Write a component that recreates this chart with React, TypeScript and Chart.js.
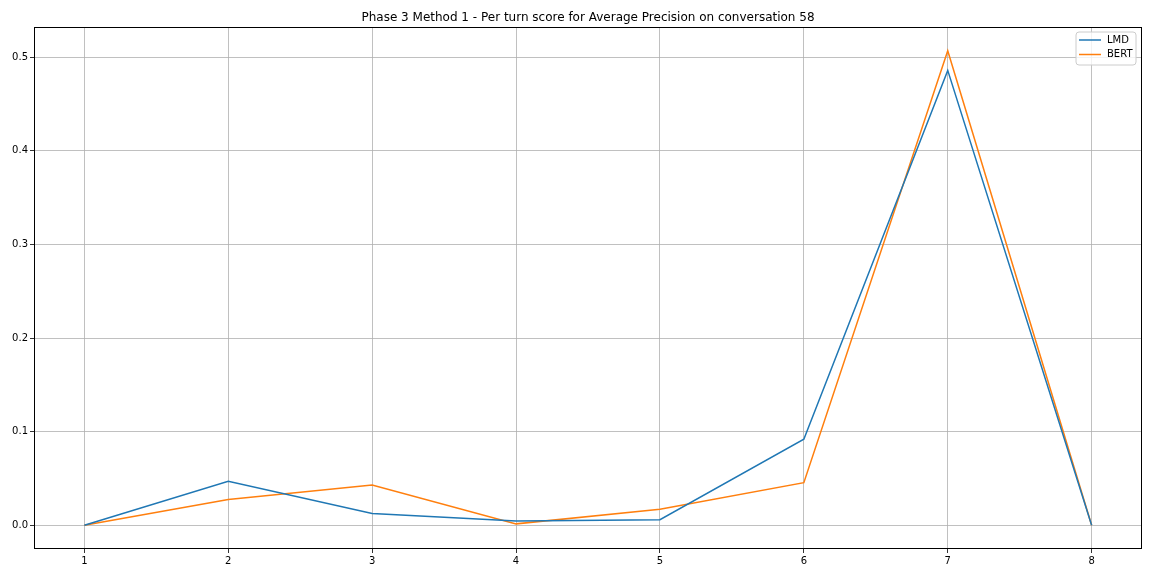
import React, { useEffect, useRef } from "react";
import { Chart, registerables } from "chart.js";

Chart.register(...registerables);

const turns = [1, 2, 3, 4, 5, 6, 7, 8];
const lmdScores = [0, 0.047, 0.0125, 0.0045, 0.006, 0.092, 0.486, 0];
const bertScores = [0, 0.0275, 0.043, 0.0015, 0.017, 0.0455, 0.507, 0];
const xTicks = [1, 2, 3, 4, 5, 6, 7, 8];
const yTicks = [0, 0.1, 0.2, 0.3, 0.4, 0.5];
const seriesNames = ["LMD", "BERT"];
const seriesColors = ["#1f77b4", "#ff7f0e"];
const titleText = "Phase 3 Method 1 - Per turn score for Average Precision on conversation 58";

const FONT = "'DejaVu Sans', sans-serif";

export default function App() {
  const ref = useRef<HTMLCanvasElement | null>(null);
  useEffect(() => {
    document.body.style.margin = "0";
    const ctx = ref.current!.getContext("2d")!;
    const allY = [...lmdScores, ...bertScores];
    const yMinD = Math.min(...allY);
    const yMaxD = Math.max(...allY);
    const yPad = (yMaxD - yMinD) * 0.05;
    const xPad = (turns[turns.length - 1] - turns[0]) * 0.05;

    const framePlugin = {
      id: "frame",
      afterDraw(chart: any) {
        const { ctx: c, chartArea: a } = chart;
        c.save();
        c.strokeStyle = "#000";
        c.lineWidth = 1;
        c.strokeRect(Math.round(a.left) + 0.5, Math.round(a.top) + 0.5, Math.round(a.right - a.left) - 1, Math.round(a.bottom - a.top) - 1);
        // title
        c.fillStyle = "#000";
        c.font = `12px ${FONT}`;
        c.textAlign = "center";
        c.textBaseline = "alphabetic";
        c.fillText(titleText, (a.left + a.right) / 2, a.top - 6);
        // legend
        const bx = a.right - 66, by = a.top + 5, bw = 60, bh = 33;
        c.beginPath();
        const r = 3;
        c.moveTo(bx + r, by);
        c.lineTo(bx + bw - r, by);
        c.quadraticCurveTo(bx + bw, by, bx + bw, by + r);
        c.lineTo(bx + bw, by + bh - r);
        c.quadraticCurveTo(bx + bw, by + bh, bx + bw - r, by + bh);
        c.lineTo(bx + r, by + bh);
        c.quadraticCurveTo(bx, by + bh, bx, by + bh - r);
        c.lineTo(bx, by + r);
        c.quadraticCurveTo(bx, by, bx + r, by);
        c.closePath();
        c.fillStyle = "rgba(255,255,255,0.8)";
        c.fill();
        c.strokeStyle = "#cccccc";
        c.lineWidth = 1;
        c.stroke();
        c.font = `10px ${FONT}`;
        c.textAlign = "left";
        c.textBaseline = "middle";
        seriesNames.forEach((n, i) => {
          const y = by + 8 + i * 14.5;
          c.strokeStyle = seriesColors[i];
          c.lineWidth = 1.5;
          c.beginPath();
          c.moveTo(bx + 3, y);
          c.lineTo(bx + 25, y);
          c.stroke();
          c.fillStyle = "#000";
          c.fillText(n, bx + 31, y);
        });
        c.restore();
      },
    };

    const chart = new Chart(ctx, {
      type: "line",
      data: {
        datasets: [lmdScores, bertScores].map((vals, i) => ({
          label: seriesNames[i],
          data: turns.map((t, k) => ({ x: t, y: vals[k] })),
          borderColor: seriesColors[i],
          backgroundColor: seriesColors[i],
          borderWidth: 1.5,
          pointRadius: 0,
          tension: 0,
          fill: false,
        })),
      },
      options: {
        animation: false,
        responsive: false,
        maintainAspectRatio: false,
        layout: { padding: { top: 27, right: 10, left: 0, bottom: 0 } },
        plugins: { legend: { display: false }, title: { display: false }, tooltip: { enabled: false } },
        scales: {
          x: {
            type: "linear",
            min: turns[0] - xPad,
            max: turns[turns.length - 1] + xPad,
            afterBuildTicks: (s: any) => { s.ticks = xTicks.map((v) => ({ value: v })); },
            afterFit: (s: any) => { s.height = 27; },
            ticks: { color: "#000", font: { family: FONT, size: 10 }, padding: 2, maxRotation: 0, callback: (v: any) => String(v) },
            grid: { color: "#b0b0b0", lineWidth: 0.8, tickColor: "#000", tickLength: 4, drawTicks: true },
            border: { display: false },
          },
          y: {
            type: "linear",
            min: yMinD - yPad,
            max: yMaxD + yPad,
            afterBuildTicks: (s: any) => { s.ticks = yTicks.map((v) => ({ value: v })); },
            afterFit: (s: any) => { s.width = 34; },
            ticks: { color: "#000", font: { family: FONT, size: 10 }, padding: 2, callback: (v: any) => Number(v).toFixed(1) },
            grid: { color: "#b0b0b0", lineWidth: 0.8, tickColor: "#000", tickLength: 4, drawTicks: true },
            border: { display: false },
          },
        },
      },
      plugins: [framePlugin],
    });
    return () => chart.destroy();
  }, []);
  return (
    <div style={{ position: "absolute", left: 0, top: 0, width: 1152, height: 576, background: "#fff" }}>
      <canvas ref={ref} width={1152} height={576} style={{ width: 1152, height: 576 }} />
    </div>
  );
}
